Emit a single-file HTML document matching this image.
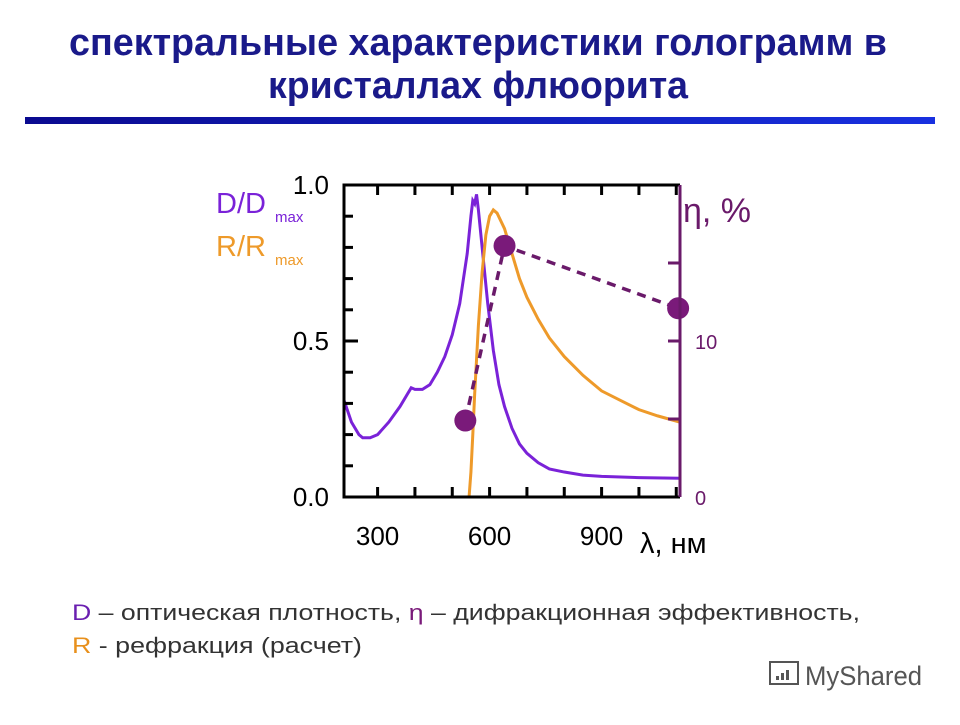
<!DOCTYPE html>
<html><head><meta charset="utf-8"><style>
body{margin:0;background:#fff;width:960px;height:720px;overflow:hidden;font-family:"Liberation Sans",sans-serif}
</style></head><body>
<svg width="960" height="720" viewBox="0 0 960 720" xmlns="http://www.w3.org/2000/svg">
<defs><linearGradient id="bg" x1="0" x2="1"><stop offset="0" stop-color="#0a0a90"/><stop offset="1" stop-color="#1830e0"/></linearGradient></defs>
<g font-family="Liberation Sans, sans-serif" font-weight="bold" font-size="38" fill="#1a1a8a" text-anchor="middle">
<text x="478" y="55" textLength="818" lengthAdjust="spacingAndGlyphs">спектральные характеристики голограмм в</text>
<text x="478" y="98" textLength="420" lengthAdjust="spacingAndGlyphs">кристаллах флюорита</text>
</g>
<rect x="25" y="117" width="910" height="7" fill="url(#bg)"/>
<g id="chart"></g>
<g font-size="22" fill="#333">
<text x="72" y="620" textLength="788" lengthAdjust="spacingAndGlyphs"><tspan fill="#6a1fb0">D</tspan> – оптическая плотность, <tspan fill="#7a1a7a">η</tspan> – дифракционная эффективность,</text>
<text x="72" y="653" textLength="290" lengthAdjust="spacingAndGlyphs"><tspan fill="#e8901c">R</tspan> - рефракция (расчет)</text>
</g>
<g>
<rect x="770" y="662" width="28" height="22" fill="none" stroke="#555" stroke-width="2"/>
<rect x="776" y="676" width="3" height="4" fill="#555"/><rect x="781" y="673" width="3" height="7" fill="#555"/><rect x="786" y="670" width="3" height="10" fill="#555"/>
<text x="805" y="685" font-size="27" fill="#555" textLength="117" lengthAdjust="spacingAndGlyphs">MyShared</text>
</g>
</svg>
<script>
const dX=[210,230,250,260,280,300,330,360,380,390,400,420,440,460,480,500,520,540,550,555,560,565,570,580,595,610,625,640,660,680,700,730,760,800,850,900,1000,1110];
const dY=[0.31,0.24,0.2,0.19,0.19,0.2,0.24,0.29,0.33,0.35,0.345,0.345,0.36,0.4,0.45,0.52,0.62,0.78,0.9,0.95,0.94,0.97,0.92,0.8,0.62,0.47,0.36,0.29,0.22,0.17,0.14,0.11,0.09,0.08,0.07,0.066,0.062,0.06];
const rX=[545,550,555,560,570,580,590,600,610,620,640,660,680,700,730,760,800,850,900,950,1000,1050,1110];
const rY=[0,0.08,0.2,0.33,0.55,0.72,0.84,0.9,0.92,0.91,0.86,0.78,0.7,0.64,0.57,0.51,0.45,0.39,0.34,0.31,0.28,0.26,0.24];
const eX=[535,640,1105];
const eY=[4.9,16.1,12.1];
const xTicks=[300,600,900];
const yTicks=["0.0","0.5","1.0"];
const ns="http://www.w3.org/2000/svg";
const L=344,R=680,T=185,B=497;
const x=v=>L+(v-210)/(1110-210)*(R-L);
const y=v=>B-v*(B-T);
const y2=v=>B-v/20*(B-T);
const g=document.getElementById('chart');
function mk(t,a,txt){const e=document.createElementNS(ns,t);for(const k in a)e.setAttribute(k,a[k]);if(txt!==undefined)e.textContent=txt;g.appendChild(e);return e;}
let p=mk('path',{d:dX.map((v,i)=>(i?'L':'M')+x(v)+' '+y(dY[i])).join(''),fill:'none',stroke:'#7a22d8','stroke-width':3});

p=mk('path',{d:rX.map((v,i)=>(i?'L':'M')+x(v)+' '+y(rY[i])).join(''),fill:'none',stroke:'#ee9a2a','stroke-width':3});

p=mk('path',{d:eX.map((v,i)=>(i?'L':'M')+x(v)+' '+y2(eY[i])).join(''),fill:'none',stroke:'#6a1a6a','stroke-width':3.5,'stroke-dasharray':'9,7'});

eX.forEach((v,i)=>{const c=mk('circle',{cx:x(v),cy:y2(eY[i]),r:11,fill:'#7a1a7a'});

});
let f=mk('path',{d:`M${R} ${T}H${L}V${B}H${R}`,fill:'none',stroke:'#000','stroke-width':3});

f=mk('line',{x1:R,y1:T,x2:R,y2:B,stroke:'#6a1a6a','stroke-width':3});

for(let v=300;v<=1100;v+=100){const t=mk('path',{d:`M${x(v)} ${T}v10M${x(v)} ${B}v-10`,stroke:'#000','stroke-width':3});
}
for(let k=1;k<10;k++){const t=mk('line',{x1:L,x2:L+(k==5?14:9),y1:y(k/10),y2:y(k/10),stroke:'#000','stroke-width':3});
}
[5,10,15].forEach(v=>{const t=mk('line',{x1:R,x2:R-12,y1:y2(v),y2:y2(v),stroke:'#6a1a6a','stroke-width':3});
});
xTicks.forEach(v=>{const t=mk('text',{x:x(v),y:545,'font-size':26,'text-anchor':'middle',fill:'#000'},v);
});
yTicks.forEach(s=>{const t=mk('text',{x:329,y:y(+s)+9,'font-size':26,'text-anchor':'end',fill:'#000'},s);
});
["0","10"].forEach(s=>{const t=mk('text',{x:695,y:y2(+s)+8,'font-size':20,fill:'#6a1a6a'},s);
});
let t=mk('text',{x:640,y:553,'font-size':29,fill:'#000'},'λ, нм');
t=mk('text',{x:683,y:222,'font-size':34,fill:'#6a1a6a'},'η, %');
t=mk('text',{x:216,y:213,'font-size':29,fill:'#7a22d8'},'D/D');
t=mk('text',{x:275,y:222,'font-size':15,fill:'#7a22d8'},'max');
t=mk('text',{x:216,y:256,'font-size':29,fill:'#ee9a2a'},'R/R');
t=mk('text',{x:275,y:265,'font-size':15,fill:'#ee9a2a'},'max');
</script>
</body></html>
